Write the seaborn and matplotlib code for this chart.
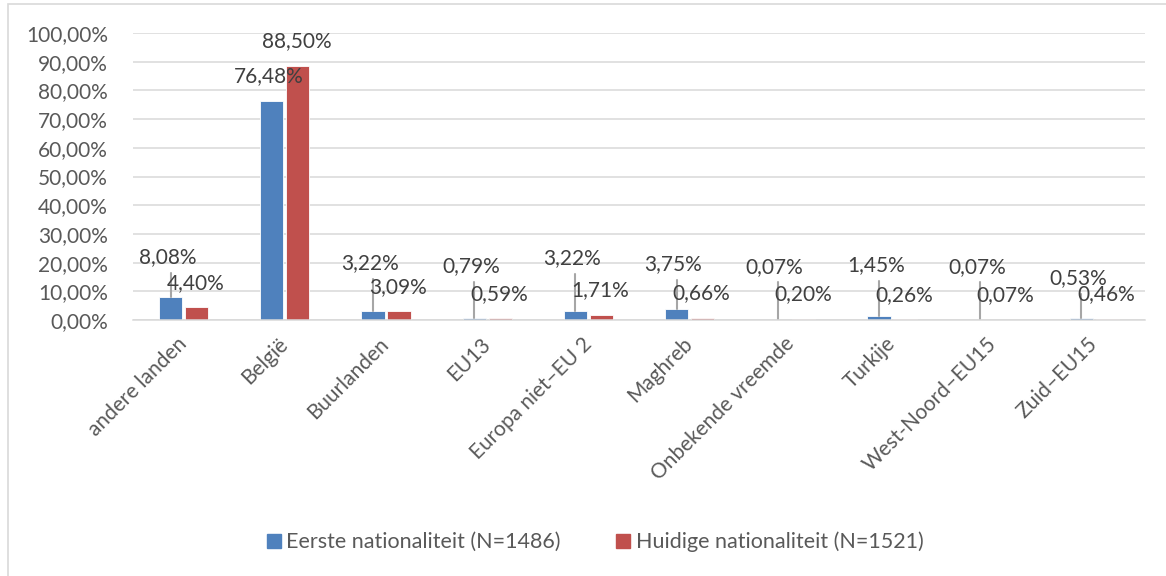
import matplotlib
matplotlib.use("Agg")
import matplotlib.pyplot as plt
import seaborn as sns
import pandas as pd
import numpy as np
from matplotlib.patches import Rectangle
from matplotlib.ticker import FuncFormatter

categories = ["andere landen", "België", "Buurlanden", "EU13", "Europa niet\u2013EU 2",
              "Maghreb", "Onbekende vreemde", "Turkije", "West-Noord\u2013EU15", "Zuid\u2013EU15"]
series_names = ["Eerste nationaliteit (N=1486)", "Huidige nationaliteit (N=1521)"]
eerste = [8.08, 76.48, 3.22, 0.79, 3.22, 3.75, 0.07, 1.45, 0.07, 0.53]
huidige = [4.40, 88.50, 3.09, 0.59, 1.71, 0.66, 0.20, 0.26, 0.07, 0.46]

# label placement (layout, in percent units) as moved in the original
label_y_eerste = [22.0, 85.0, 19.9, 18.8, 21.6, 19.5, 18.6, 19.2, 18.6, 14.6]
label_y_huidige = [12.9, 97.2, 11.5, 9.1, 10.5, 9.4, 9.1, 8.7, 8.7, 9.1]

colors = ["#4F81BD", "#C0504D"]

df = pd.DataFrame({
    "cat": categories * 2,
    "val": eerste + huidige,
    "serie": [series_names[0]] * len(categories) + [series_names[1]] * len(categories),
})

sns.set_theme(style="white")
plt.rcParams["font.family"] = ["Lato", "DejaVu Sans"]

W, H = 1166, 576
fig = plt.figure(figsize=(W / 100, H / 100), dpi=100)
ax = fig.add_axes([133 / W, 1 - 320 / H, (1145 - 133) / W, (320 - 33) / H])

sns.barplot(data=df, x="cat", y="val", hue="serie", palette=colors, ax=ax,
            width=0.514, gap=0.115, saturation=1, legend=False, errorbar=None,
            edgecolor="white", linewidth=0.6)

ax.set_ylim(0, 100)
ax.set_xlim(-0.5, len(categories) - 0.5)
ax.set_yticks(np.arange(0, 101, 10))
ax.yaxis.set_major_formatter(FuncFormatter(lambda v, p: f"{v:.2f}".replace(".", ",") + "%"))
ax.grid(axis="y", color="#D9D9D9", linewidth=1.1)
ax.set_axisbelow(True)
for s in ["top", "right", "left"]:
    ax.spines[s].set_visible(False)
ax.spines["bottom"].set_color("#D9D9D9")
ax.spines["bottom"].set_linewidth(1.1)
ax.set_xlabel("")
ax.set_ylabel("")
fs = 15
ax.tick_params(axis="y", length=0, pad=18, labelsize=fs, labelcolor="#595959")
ax.tick_params(axis="x", length=0, pad=15, labelsize=fs, labelcolor="#595959")
plt.setp(ax.get_xticklabels(), rotation=45, ha="right", va="center", rotation_mode="anchor")

fmt = lambda v: f"{v:.2f}".replace(".", ",") + "%"
for i in range(len(categories)):
    bx = i - 0.129
    # leader line for first series
    top = label_y_eerste[i] - 5.5
    if top - eerste[i] > 4:
        ax.plot([bx, bx], [eerste[i], top], color="#A6A6A6", linewidth=1.5, zorder=1.5)
    ax.text(i - 0.16, label_y_eerste[i], fmt(eerste[i]), ha="center", va="center",
            fontsize=fs, color="#404040", zorder=3)
    ax.text(i + 0.12, label_y_huidige[i], fmt(huidige[i]), ha="center", va="center",
            fontsize=fs, color="#404040", zorder=3)

handles = [Rectangle((0, 0), 1, 1, color=c) for c in colors]
fig.legend(handles, series_names, loc="center", bbox_to_anchor=(595 / W, 1 - 542 / H),
           ncol=2, frameon=False, fontsize=15.5, labelcolor="#595959",
           handlelength=0.65, handleheight=0.65, handletextpad=0.25, columnspacing=2.6)

fig.patches.append(Rectangle((8 / W, -0.05), 1.2, 1 - 4 / H + 0.05, transform=fig.transFigure,
                             fill=False, edgecolor="#D9D9D9", linewidth=1.2))

fig.savefig("out.png", dpi=100, facecolor="white")
